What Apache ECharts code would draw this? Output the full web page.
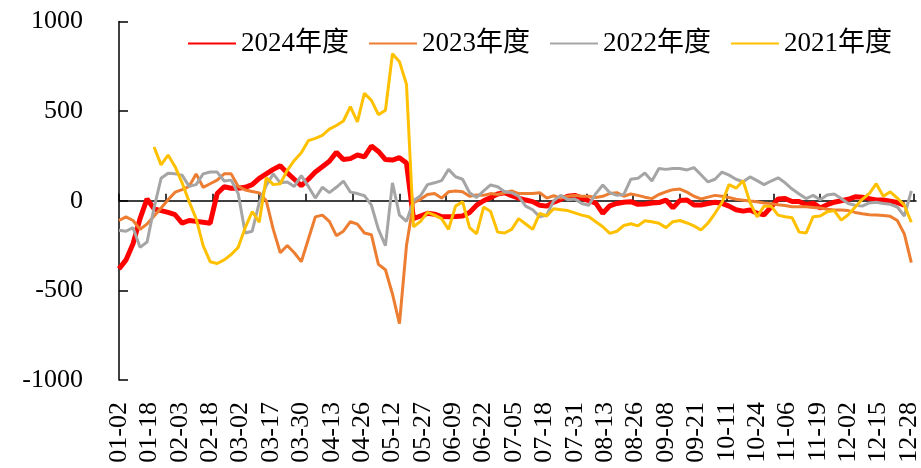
<!DOCTYPE html>
<html>
<head>
<meta charset="utf-8">
<script src="https://cdn.jsdelivr.net/npm/echarts@6/dist/echarts.min.js"></script>
<style>
  html, body { margin: 0; padding: 0; background: #fff; }
  #main { width: 921px; height: 468px; }
</style>
</head>
<body>
<div id="main"></div>
<script>
// 日期轴：2024 日历，去掉没有数据的日子
const skipDays = ['01-06', '01-13', '01-14', '01-20', '01-27', '01-28', '02-10', '02-11',
  '03-09', '03-10', '04-04', '05-01', '05-02', '05-03', '05-18', '05-19',
  '10-01', '10-02', '10-03', '10-04', '10-05', '10-06', '10-07'];
const categories = [];
for (let d = new Date(Date.UTC(2024, 0, 2)); d.getUTCFullYear() === 2024; d.setUTCDate(d.getUTCDate() + 1)) {
  const md = String(d.getUTCMonth() + 1).padStart(2, '0') + '-' + String(d.getUTCDate()).padStart(2, '0');
  if (skipDays.indexOf(md) < 0) categories.push(md);
}

// 每 3 个日期取一个读数
const step = 3;
const yearNames = ['2024年度', '2023年度', '2022年度', '2021年度'];

const y2024 = [-380, -330, -240, -100, 10, -45, -55, -65, -78, -125,
  -110, -115, -120, -125, 40, 78, 70, 70, 75, 90,
  125, 150, 175, 195, 155, 120, 85, 120, 160, 190,
  220, 270, 230, 235, 255, 245, 305, 275, 230, 227,
  240, 210, -100, -85, -70, -75, -88, -89, -88, -85,
  -65, -25, 0, 18, 38, 45, 28, 15, 4, -5,
  -25, -30, -8, 8, 25, 30, 15, 0, -13, -70,
  -28, -15, -8, -5, -20, -18, -13, -10, 4, -40,
  2, 4, -24, -24, -15, -8, -15, -30, -50, -58,
  -52, -70, -78, -35, 10, 12, -4, -4, -22, -13,
  -40, -22, -8, 0, 8, 22, 20, 12, 4, 4,
  -2, -10, -24, null];

const y2023 = [-110, -90, -110, -160, -130, -85, -40, 5, 48, 62,
  80, 150, 75, 95, 115, 150, 150, 80, 60, 52,
  44, 0, -160, -290, -250, -290, -340, -215, -90, -80,
  -115, -195, -170, -117, -130, -180, -190, -355, -385, -520,
  -685, -250, -10, 8, 35, 40, 15, 50, 55, 50,
  25, 32, 30, 40, 35, 45, 55, 40, 40, 40,
  45, 15, 28, 15, 25, 30, 25, 25, 18, 25,
  41, 45, 25, 38, 30, 20, 12, 35, 50, 62,
  65, 48, 25, 10, 20, 30, 25, 18, 8, 3,
  -2, -6, -12, -16, -22, -27, -33, -33, -33, -38,
  -41, -47, -52, -52, -55, -65, -72, -78, -80, -82,
  -87, -110, -185, -345];

const y2022 = [-165, -170, -150, -260, -230, -40, 125, 153, 150, 143,
  80, 90, 150, 160, 160, 110, 115, 40, -180, -170,
  -10, 85, 150, 100, 105, 80, 140, 80, 15, 75,
  45, 75, 110, 48, 40, 28, -25, -160, -250, 100,
  -80, -115, 0, 28, 90, 100, 112, 175, 134, 120,
  45, 18, 55, 88, 78, 50, 45, 25, -30, -50,
  -90, -80, 0, 30, 5, 10, -15, -25, 40, 88,
  45, 30, 35, 120, 125, 155, 110, 180, 175, 180,
  180, 172, 185, 145, 105, 120, 160, 143, 120, 106,
  133, 112, 90, 110, 128, 100, 65, 38, 12, 30,
  5, 32, 38, 12, -15, -25, -30, -12, -8, -15,
  -20, -35, -85, 55];

const y2021 = [null, null, null, null, null, 300, 200, 255, 190, 100,
  -5, -100, -250, -340, -350, -330, -300, -260, -150, -60,
  -120, 130, 90, 95, 170, 225, 268, 335, 348, 365,
  400, 420, 445, 525, 440, 600, 560, 480, 505, 820,
  776, 650, -145, -115, -65, -80, -100, -160, -30, -5,
  -150, -185, -35, -60, -175, -180, -160, -100, -130, -160,
  -70, -85, -45, -50, -55, -68, -80, -89, -117, -145,
  -182, -170, -138, -128, -140, -112, -117, -125, -150, -117,
  -110, -124, -140, -163, -125, -70, -10, 90, 70, 112,
  -10, -90, -30, -30, -80, -89, -95, -175, -180, -89,
  -85, -62, -55, -108, -78, -35, 8, 40, 95, 25,
  50, 15, -25, -120];

const colors = ['#FF0000', '#ED7D31', '#A5A5A5', '#FFC000'];
const widths = [5, 3, 3, 3];
const fontFamily = '"Liberation Serif", "Noto Sans CJK SC", serif';

function toPairs(arr) {
  return arr.map(function (v, k) { return [k * step, v]; });
}

const chart = echarts.init(document.getElementById('main'), null, { renderer: 'canvas' });

const option = {
  animation: false,
  backgroundColor: '#fff',
  textStyle: { fontFamily: fontFamily },
  grid: {
    left: 119,
    right: 5,
    top: 21.5,
    bottom: 88,
    containLabel: false,
    outerBoundsMode: 'none'
  },
  legend: {
    data: yearNames,
    left: 187,
    top: 30,
    padding: 0,
    itemGap: 19,
    itemWidth: 48,
    itemHeight: 14,
    itemStyle: { opacity: 0 },
    textStyle: { fontFamily: fontFamily, fontSize: 27, color: '#000' }
  },
  xAxis: [{
    // 底部日期标签
    type: 'category',
    data: categories,
    boundaryGap: false,
    position: 'bottom',
    axisLine: { show: false, onZero: false },
    axisTick: { show: false },
    splitLine: { show: false },
    axisLabel: {
      interval: 12,
      rotate: 90,
      margin: 22,
      fontFamily: fontFamily,
      fontSize: 26,
      lineHeight: 26,
      color: '#000'
    }
  }, {
    // 零轴（刻度朝上）
    type: 'category',
    data: categories,
    boundaryGap: false,
    position: 'bottom',
    axisLine: { show: true, onZero: true, lineStyle: { color: '#000', width: 1.5 } },
    axisTick: { show: true, inside: true, interval: 19, length: 7, lineStyle: { color: '#000', width: 1.5 } },
    axisLabel: { show: true, interval: 19, formatter: function () { return ''; } },
    splitLine: { show: false }
  }],
  yAxis: {
    type: 'value',
    min: -1000,
    max: 1000,
    interval: 500,
    axisLine: { show: true, lineStyle: { color: '#000', width: 1.5 } },
    axisTick: { show: true, inside: true, length: 9, lineStyle: { color: '#000', width: 1.5 } },
    splitLine: { show: false },
    axisLabel: {
      margin: 36,
      fontFamily: fontFamily,
      fontSize: 26,
      color: '#000',
      formatter: function (v) { return String(v); }
    }
  },
  series: [y2024, y2023, y2022, y2021].map(function (arr, i) {
    return {
      name: yearNames[i],
      type: 'line',
      xAxisIndex: 0,
      yAxisIndex: 0,
      symbol: 'none',
      showSymbol: false,
      color: colors[i],
      lineStyle: { color: colors[i], width: widths[i] },
      data: toPairs(arr)
    };
  })
};

chart.setOption(option);
</script>
</body>
</html>
